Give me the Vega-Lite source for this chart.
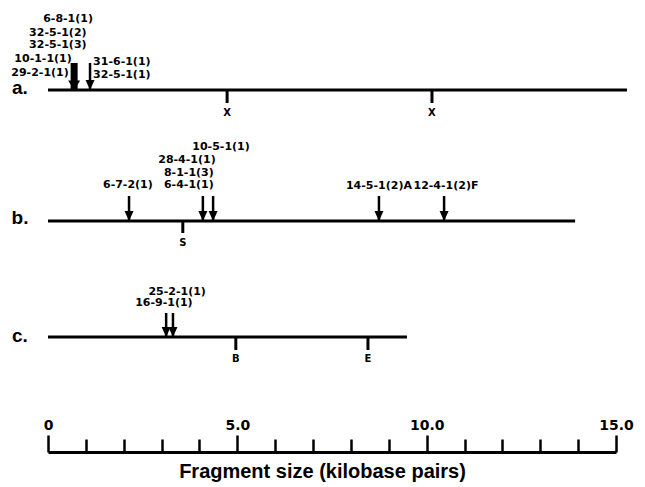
{
  "$schema": "https://vega.github.io/schema/vega-lite/v6.json",
  "autosize": {"type": "none"},
  "width": 568,
  "height": 452,
  "padding": {"left": 48, "right": 29, "top": 0, "bottom": 35},
  "background": "white",
  "config": {"view": {"stroke": null}},
  "datasets": {
    "lines": [
      {"track": "a", "pos": 0, "end": 15.29, "lvl": 36.2},
      {"track": "b", "pos": 0, "end": 13.92, "lvl": 23.1},
      {"track": "c", "pos": 0, "end": 9.48, "lvl": 11.5}
    ],
    "sites": [
      {"track": "a", "site": "X", "pos": 4.73, "lvl": 36.2, "low": 34.9, "lab": 33.9},
      {"track": "a", "site": "X", "pos": 10.14, "lvl": 36.2, "low": 34.9, "lab": 33.9},
      {"track": "b", "site": "S", "pos": 3.56, "lvl": 23.1, "low": 21.9, "lab": 20.9},
      {"track": "c", "site": "B", "pos": 4.96, "lvl": 11.5, "low": 10.2, "lab": 9.3},
      {"track": "c", "site": "E", "pos": 8.45, "lvl": 11.5, "low": 10.2, "lab": 9.3}
    ],
    "arrows": [
      {"track": "a", "pos": 0.69, "lvl": 38.9, "base": 36.2, "clones": 5},
      {"track": "a", "pos": 1.11, "lvl": 38.9, "base": 36.2, "clones": 2},
      {"track": "b", "pos": 2.14, "lvl": 25.6, "base": 23.1, "clones": 1},
      {"track": "b", "pos": 4.09, "lvl": 25.6, "base": 23.1, "clones": 2},
      {"track": "b", "pos": 4.36, "lvl": 25.6, "base": 23.1, "clones": 2},
      {"track": "b", "pos": 8.74, "lvl": 25.6, "base": 23.1, "clones": 1},
      {"track": "b", "pos": 10.46, "lvl": 25.6, "base": 23.1, "clones": 1},
      {"track": "c", "pos": 3.12, "lvl": 13.9, "base": 11.5, "clones": 1},
      {"track": "c", "pos": 3.30, "lvl": 13.9, "base": 11.5, "clones": 1}
    ],
    "clones": [
      {"name": "6-8-1(1)", "pos": 0.53, "lvl": 43.3},
      {"name": "32-5-1(2)", "pos": 0.26, "lvl": 41.9},
      {"name": "32-5-1(3)", "pos": 0.26, "lvl": 40.7},
      {"name": "10-1-1(1)", "pos": -0.13, "lvl": 39.3},
      {"name": "29-2-1(1)", "pos": -0.21, "lvl": 37.9},
      {"name": "31-6-1(1)", "pos": 1.95, "lvl": 39.0},
      {"name": "32-5-1(1)", "pos": 1.95, "lvl": 37.7},
      {"name": "10-5-1(1)", "pos": 4.57, "lvl": 30.5},
      {"name": "28-4-1(1)", "pos": 3.67, "lvl": 29.2},
      {"name": "8-1-1(3)", "pos": 3.72, "lvl": 27.9},
      {"name": "6-4-1(1)", "pos": 3.72, "lvl": 26.7},
      {"name": "6-7-2(1)", "pos": 2.11, "lvl": 26.7},
      {"name": "14-5-1(2)A", "pos": 8.74, "lvl": 26.6},
      {"name": "12-4-1(2)F", "pos": 10.51, "lvl": 26.6},
      {"name": "25-2-1(1)", "pos": 3.41, "lvl": 16.0},
      {"name": "16-9-1(1)", "pos": 3.06, "lvl": 14.9}
    ],
    "tracks": [
      {"name": "a.", "pos": -0.74, "lvl": 36.4},
      {"name": "b.", "pos": -0.74, "lvl": 23.4},
      {"name": "c.", "pos": -0.74, "lvl": 11.6}
    ]
  },
  "encoding": {
    "x": {
      "field": "pos",
      "type": "quantitative",
      "scale": {"domain": [0, 15], "nice": false, "zero": false},
      "axis": {
        "orient": "bottom",
        "values": [0, 1, 2, 3, 4, 5, 6, 7, 8, 9, 10, 11, 12, 13, 14, 15],
        "labelExpr": "datum.value % 5 === 0 ? (datum.value === 0 ? '0' : format(datum.value, '.1f')) : ''",
        "tickSize": {"condition": {"test": "datum.value % 5 === 0", "value": -17}, "value": -13},
        "tickWidth": 2.5,
        "tickColor": "black",
        "domainWidth": 3,
        "domainColor": "black",
        "grid": false,
        "labelFont": "DejaVu Sans",
        "labelFontWeight": "bold",
        "labelFontSize": 14,
        "labelColor": "black",
        "labelPadding": -17,
        "labelFlush": false,
        "labelOverlap": false,
        "labelBound": false,
        "title": "Fragment size (kilobase pairs)",
        "titleFont": "Liberation Sans",
        "titleFontSize": 20,
        "titleFontWeight": "bold",
        "titleColor": "black",
        "titleX": 274,
        "titleY": 19,
        "titleAlign": "center",
        "titleBaseline": "middle"
      }
    },
    "y": {
      "field": "lvl",
      "type": "quantitative",
      "scale": {"domain": [0, 45.2], "nice": false, "zero": false},
      "axis": null
    }
  },
  "layer": [
    {
      "data": {"name": "lines"},
      "mark": {"type": "rule", "strokeWidth": 3, "color": "black"},
      "encoding": {"x2": {"field": "end"}}
    },
    {
      "data": {"name": "sites"},
      "mark": {"type": "rule", "strokeWidth": 3, "color": "black"},
      "encoding": {"y2": {"field": "low"}}
    },
    {
      "data": {"name": "sites"},
      "mark": {"type": "text", "font": "DejaVu Sans", "fontWeight": "bold", "fontSize": 10, "color": "black", "baseline": "middle"},
      "encoding": {"y": {"field": "lab", "type": "quantitative"}, "text": {"field": "site"}}
    },
    {
      "data": {"name": "arrows"},
      "transform": [{"filter": "datum.clones < 5"}],
      "mark": {"type": "rule", "strokeWidth": 2.5, "color": "black"},
      "encoding": {"y2": {"field": "base"}}
    },
    {
      "data": {"name": "arrows"},
      "transform": [{"filter": "datum.clones < 5"}],
      "mark": {"type": "point", "shape": "M-1,-2.2L1,-2.2L0,0Z", "size": 81, "filled": true, "color": "black", "opacity": 1, "strokeWidth": 0},
      "encoding": {"y": {"field": "base", "type": "quantitative"}}
    },
    {
      "data": {"name": "arrows"},
      "transform": [{"filter": "datum.clones >= 5"}],
      "mark": {"type": "rule", "strokeWidth": 7, "color": "black"},
      "encoding": {"y2": {"field": "base"}}
    },
    {
      "data": {"name": "arrows"},
      "transform": [{"filter": "datum.clones >= 5"}],
      "mark": {"type": "point", "shape": "M-1,-1.6L1,-1.6L0,0Z", "size": 144, "filled": true, "color": "black", "opacity": 1, "strokeWidth": 0},
      "encoding": {"y": {"field": "base", "type": "quantitative"}}
    },
    {
      "data": {"name": "clones"},
      "mark": {"type": "text", "font": "DejaVu Sans", "fontWeight": "bold", "fontSize": 11, "color": "black", "baseline": "middle", "align": "center"},
      "encoding": {"text": {"field": "name"}}
    },
    {
      "data": {"name": "tracks"},
      "mark": {"type": "text", "font": "Liberation Sans", "fontWeight": "bold", "fontSize": 19, "color": "black", "baseline": "middle", "align": "center"},
      "encoding": {"text": {"field": "name"}}
    }
  ]
}
